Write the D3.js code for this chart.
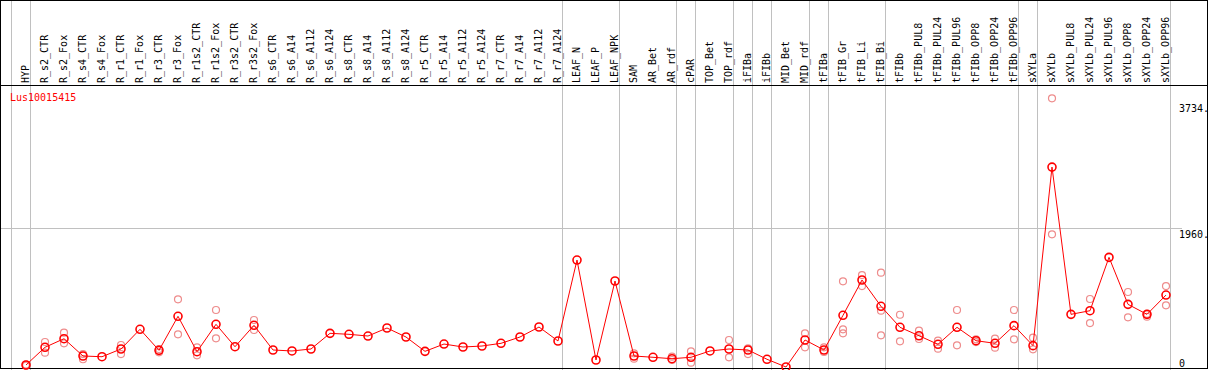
<!DOCTYPE html>
<html>
<head>
<meta charset="utf-8">
<script src="https://cdn.jsdelivr.net/npm/d3@7"></script>
<style>
  body { margin: 0; background: #fff; }
  svg { display: block; font-family: "DejaVu Sans Mono", monospace; font-size: 10px; }
</style>
</head>
<body>
<svg id="chart"></svg>
<script>
const geneName = "Lus10015415";

const categories = [
  "HYP", "R_s2_CTR", "R_s2_Fox", "R_s4_CTR", "R_s4_Fox", "R_r1_CTR", "R_r1_Fox",
  "R_r3_CTR", "R_r3_Fox", "R_r1s2_CTR", "R_r1s2_Fox", "R_r3s2_CTR", "R_r3s2_Fox",
  "R_s6_CTR", "R_s6_A14", "R_s6_A112", "R_s6_A124", "R_s8_CTR", "R_s8_A14", "R_s8_A112",
  "R_s8_A124", "R_r5_CTR", "R_r5_A14", "R_r5_A112", "R_r5_A124", "R_r7_CTR", "R_r7_A14",
  "R_r7_A112", "R_r7_A124", "LEAF_N", "LEAF_P", "LEAF_NPK", "SAM", "AR_Bet", "AR_rdf",
  "cPAR", "TOP_Bet", "TOP_rdf", "iFIBa", "iFIBb", "MID_Bet", "MID_rdf", "tFIBa",
  "tFIB_Gr", "tFIB_Li", "tFIB_Bi", "tFIBb", "tFIBb_PUL8", "tFIBb_PUL24", "tFIBb_PUL96",
  "tFIBb_OPP8", "tFIBb_OPP24", "tFIBb_OPP96", "sXYLa", "sXYLb", "sXYLb_PUL8",
  "sXYLb_PUL24", "sXYLb_PUL96", "sXYLb_OPP8", "sXYLb_OPP24", "sXYLb_OPP96"
];

// mean expression per sample
const means = [
  28, 278, 399, 155, 145, 254, 532,
  235, 715, 216, 602, 286, 588,
  240, 226, 254, 475, 461, 437, 550,
  423, 221, 324, 282, 296, 334, 423,
  564, 367, 1509, 99, 1213, 155, 137, 117,
  137, 226, 254, 240, 109, 0, 381, 240,
  729, 1227, 856, 560, 441, 320, 560,
  371, 334, 583, 301, 2820, 743,
  794, 1547, 884, 743, 1015
];

// replicate values (only the ones that show apart from the mean)
const replicates = [
  [20, 35], [353, 202], [484, 334], [183, 109], [], [310, 183], [],
  [254, 207], [955, 461], [278, 165], [804, 405], [], [663, 522],
  [], [], [], [], [], [], [],
  [], [], [], [], [], [], [],
  [], [], [], [], [], [193, 117], [], [145, 99],
  [221, 61], [], [381, 137], [264, 183], [], [], [475, 278], [278, 212],
  [1208, 532, 475], [1297, 1142], [1330, 794, 447], [737, 362], [512, 395], [371, 258], [804, 306],
  [390, 352], [399, 273], [804, 390], [414, 249], [3790, 1871], [],
  [959, 620], [], [1058, 701], [750, 709], [1142, 870]
];

// vertical separators drawn after these samples
const groupEnds = ["HYP", "R_r7_A124", "LEAF_NPK", "AR_rdf", "cPAR", "TOP_rdf", "iFIBa",
  "iFIBb", "MID_rdf", "tFIBa", "tFIB_Bi", "tFIBb_OPP96", "sXYLa", "sXYLb_OPP96"];

const yTicks = [0, 1960, 3734];
const yTickLabels = ["0", "1960.", "3734."];

const width = 1209, height = 370;
const headerY = 85;

const svg = d3.select("#chart").attr("width", width).attr("height", height);

const step = 19;
const x = d3.scalePoint()
  .domain(categories)
  .range([26, 26 + step * (categories.length - 1)]);

const y = d3.scaleLinear()
  .domain([0, 3734])
  .range([367, 102.3]);

svg.append("rect")
  .attr("width", width).attr("height", height)
  .attr("fill", "#fff");

// grid lines
const grid = svg.append("g").attr("stroke", "#c0c0c0").attr("stroke-width", 1);
const sepX = [x(categories[0]) - step].concat(groupEnds.map(d => x(d)))
  .map(v => Math.round(v + 4) + 0.5);
grid.selectAll("line.v")
  .data(sepX)
  .enter().append("line")
  .attr("class", "v")
  .attr("x1", d => d).attr("x2", d => d)
  .attr("y1", 0).attr("y2", height);

grid.selectAll("line.h")
  .data(yTicks.filter((d, i) => i > 0 && i < yTicks.length - 1))
  .enter().append("line")
  .attr("class", "h")
  .attr("x1", 0).attr("x2", 1182)
  .attr("y1", d => Math.round(y(d)) + 0.5)
  .attr("y2", d => Math.round(y(d)) + 0.5);

// frame + header separator
svg.append("rect")
  .attr("x", 0.5).attr("y", 0.5)
  .attr("width", 1207).attr("height", 368)
  .attr("fill", "none").attr("stroke", "#000");
svg.append("line")
  .attr("x1", 0).attr("x2", 1208)
  .attr("y1", headerY + 0.5).attr("y2", headerY + 0.5)
  .attr("stroke", "#000");

// sample labels in the header
svg.append("g").selectAll("text")
  .data(categories)
  .enter().append("text")
  .attr("transform", d => `translate(${x(d) + 3},${headerY - 2}) rotate(-90)`)
  .attr("fill", "#000")
  .text(d => d);

// gene name
svg.append("text")
  .attr("x", 10).attr("y", 101)
  .attr("fill", "#ff0000")
  .text(geneName);

// right axis
const axis = svg.append("g")
  .attr("transform", "translate(1179,0)")
  .call(d3.axisRight(y)
    .tickValues(yTicks)
    .tickFormat((d, i) => yTickLabels[i])
    .tickSize(0)
    .tickPadding(0));
axis.select(".domain").remove();
axis.selectAll("text")
  .attr("fill", "#000")
  .attr("font-family", "DejaVu Sans Mono, monospace")
  .attr("font-size", 10)
  .attr("dy", null)
  .attr("y", d => Math.min(9, 366 - y(d)));

// replicate points
const repPts = [];
replicates.forEach((reps, i) => reps.forEach(v => repPts.push([categories[i], v])));
svg.append("g").selectAll("circle")
  .data(repPts)
  .enter().append("circle")
  .attr("cx", d => x(d[0]))
  .attr("cy", d => y(d[1]))
  .attr("r", 3.5)
  .attr("fill", "none")
  .attr("stroke", "#ee8c8c")
  .attr("stroke-width", 1.2);

// mean line
const line = d3.line()
  .x((d, i) => x(categories[i]))
  .y(d => y(d));
svg.append("path")
  .datum(means)
  .attr("d", line)
  .attr("fill", "none")
  .attr("stroke", "#ff0000")
  .attr("stroke-width", 1);

svg.append("g").selectAll("circle")
  .data(means)
  .enter().append("circle")
  .attr("cx", (d, i) => x(categories[i]))
  .attr("cy", d => y(d))
  .attr("r", 4)
  .attr("fill", "none")
  .attr("stroke", "#ff0000")
  .attr("stroke-width", 1.6);
</script>
</body>
</html>
